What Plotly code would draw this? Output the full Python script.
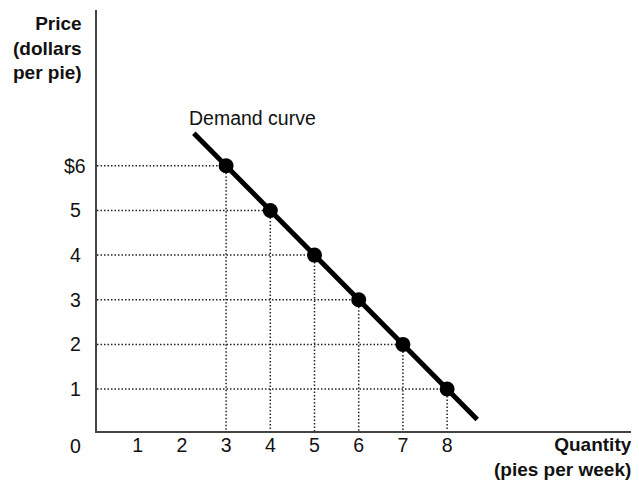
import plotly.graph_objects as go

quantities = [3, 4, 5, 6, 7, 8]
prices = [6, 5, 4, 3, 2, 1]
curve_q = [2.27, 8.68]
curve_p = [6.73, 0.32]
x_ticks = [1, 2, 3, 4, 5, 6, 7, 8]
y_ticks = [1, 2, 3, 4, 5, 6]
y_tick_labels = ["1", "2", "3", "4", "5", "$6"]

X0, X1 = 0.08, 12.34
Y0, Y1 = 0.06, 9.49
FONT = "Liberation Sans, Arial, Helvetica, sans-serif"
TXT = 19.5
BOLD = 19

fig = go.Figure()

# dotted guide lines
hx, hy, vx, vy = [], [], [], []
for q, p in zip(quantities, prices):
    hx += [X0, q, None]
    hy += [p, p, None]
    vx += [q, q, None]
    vy += [p, Y0, None]
dot = dict(color="#222", width=1.5, dash="1.5px,2px")
fig.add_trace(go.Scatter(x=hx, y=hy, mode="lines", line=dot,
                         hoverinfo="skip", showlegend=False))
fig.add_trace(go.Scatter(x=vx, y=vy, mode="lines", line=dot,
                         hoverinfo="skip", showlegend=False))

# demand curve
fig.add_trace(go.Scatter(x=curve_q, y=curve_p, mode="lines",
                         line=dict(color="black", width=5),
                         showlegend=False))
fig.add_trace(go.Scatter(x=quantities, y=prices, mode="markers",
                         marker=dict(color="black", size=15),
                         showlegend=False))

fig.add_annotation(x=2.12, y=7.07, text="Demand curve", showarrow=False,
                   xanchor="left", yanchor="middle",
                   font=dict(family=FONT, size=TXT, color="#111"))

# y tick labels (centered, as in the reference)
for v, lab in zip(y_ticks, y_tick_labels):
    fig.add_annotation(x=X0, y=v, xref="x", yref="y", text=lab, showarrow=False,
                       xanchor="center", yanchor="middle", xshift=-22,
                       font=dict(family=FONT, size=TXT, color="#111"))

fig.add_annotation(x=X0, y=Y0, xref="x", yref="y", text="0", showarrow=False,
                   xanchor="center", yanchor="middle", xshift=-22, yshift=-15,
                   font=dict(family=FONT, size=TXT, color="#111"))

fig.add_annotation(x=0, y=1, xref="paper", yref="paper", xshift=-13, yshift=-1,
                   text="<b>Price<br>(dollars<br>per pie)</b>", showarrow=False,
                   xanchor="right", yanchor="top", align="right",
                   font=dict(family=FONT, size=BOLD, color="#111"))

fig.add_annotation(x=1, y=0, xref="paper", yref="paper", xshift=-5, yshift=-1,
                   text="<b>Quantity<br>(pies per week)</b>", showarrow=False,
                   xanchor="right", yanchor="top", align="right",
                   font=dict(family=FONT, size=BOLD, color="#111"))

fig.update_layout(
    width=631, height=473,
    margin=dict(l=89, r=0, t=2, b=50),
    paper_bgcolor="white", plot_bgcolor="white",
    font=dict(family=FONT, size=TXT, color="#111"),
    xaxis=dict(range=[X0, X1], showgrid=False, zeroline=False,
               showline=True, linecolor="#444", linewidth=2,
               tickvals=x_ticks, ticks="", ticklabelstandoff=-4),
    yaxis=dict(range=[Y0, Y1], showgrid=False, zeroline=False,
               showline=True, linecolor="#444", linewidth=2,
               tickvals=y_ticks, showticklabels=False, ticks=""),
)

fig.write_html("out.html")
